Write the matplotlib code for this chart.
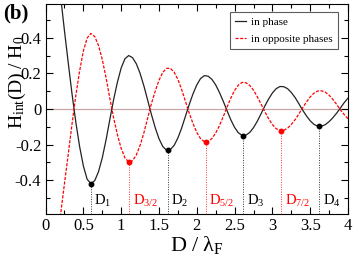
import matplotlib
matplotlib.use("Agg")
import matplotlib.pyplot as plt

plt.rcParams['font.family'] = ['Liberation Serif', 'DejaVu Serif']
plt.rcParams['mathtext.fontset'] = 'custom'
plt.rcParams['mathtext.rm'] = 'Liberation Serif'
plt.rcParams['mathtext.it'] = 'Liberation Serif:italic'

# D / lambda_F sample positions
d = [0.15, 0.20, 0.25, 0.30, 0.35, 0.40, 0.45, 0.50, 0.55, 0.60,
     0.65, 0.70, 0.75, 0.80, 0.85, 0.90, 0.95, 1.00, 1.05, 1.10,
     1.15, 1.20, 1.25, 1.30, 1.35, 1.40, 1.45, 1.50, 1.55, 1.60,
     1.65, 1.70, 1.75, 1.80, 1.85, 1.90, 1.95, 2.00, 2.05, 2.10,
     2.15, 2.20, 2.25, 2.30, 2.35, 2.40, 2.45, 2.50, 2.55, 2.60,
     2.65, 2.70, 2.75, 2.80, 2.85, 2.90, 2.95, 3.00, 3.05, 3.10,
     3.15, 3.20, 3.25, 3.30, 3.35, 3.40, 3.45, 3.50, 3.55, 3.60,
     3.65, 3.70, 3.75, 3.80, 3.85, 3.90, 3.95, 4.00]

in_phase = [0.82, 0.63, 0.44, 0.26, 0.085, -0.073, -0.21, -0.32, -0.395, -0.42,
            -0.403, -0.353, -0.275, -0.174, -0.06, 0.052, 0.15, 0.23, 0.282, 0.30,
            0.288, 0.254, 0.20, 0.13, 0.05, -0.031, -0.105, -0.167, -0.211, -0.232,
            -0.228, -0.205, -0.163, -0.107, -0.041, 0.025, 0.085, 0.135, 0.171, 0.187,
            0.184, 0.166, 0.135, 0.092, 0.043, -0.01, -0.061, -0.104, -0.134, -0.149,
            -0.147, -0.132, -0.105, -0.069, -0.027, 0.017, 0.056, 0.09, 0.114, 0.126,
            0.125, 0.114, 0.092, 0.064, 0.029, -0.007, -0.039, -0.067, -0.087, -0.097,
            -0.097, -0.088, -0.071, -0.049, -0.023, 0.006, 0.036, 0.061]

opposite = [-0.76, -0.59, -0.42, -0.255, -0.085, 0.074, 0.212, 0.325, 0.398, 0.424,
            0.407, 0.357, 0.278, 0.176, 0.06, -0.05, -0.144, -0.222, -0.275, -0.298,
            -0.291, -0.259, -0.205, -0.135, -0.052, 0.03, 0.10, 0.161, 0.205, 0.228,
            0.228, 0.207, 0.166, 0.109, 0.043, -0.024, -0.082, -0.132, -0.167, -0.184,
            -0.183, -0.166, -0.135, -0.093, -0.043, 0.01, 0.061, 0.104, 0.134, 0.149,
            0.147, 0.132, 0.105, 0.069, 0.027, -0.016, -0.055, -0.088, -0.111, -0.121,
            -0.12, -0.108, -0.087, -0.06, -0.028, 0.007, 0.039, 0.068, 0.089, 0.101,
            0.102, 0.094, 0.077, 0.053, 0.025, -0.006, -0.032, -0.055]

# minima and their labels
min_d = [0.6, 1.11, 1.616, 2.12, 2.616, 3.115, 3.62]
min_h = [-0.422, -0.299, -0.233, -0.186, -0.150, -0.122, -0.098]
min_labels = ['$\\mathrm{D_1}$', '$\\mathrm{D_{3/2}}$', '$\\mathrm{D_2}$', '$\\mathrm{D_{5/2}}$',
              '$\\mathrm{D_3}$', '$\\mathrm{D_{7/2}}$', '$\\mathrm{D_4}$']
min_colors = ['black', 'red', 'black', 'red', 'black', 'red', 'black']

x_ticks = [0, 0.5, 1, 1.5, 2, 2.5, 3, 3.5, 4]
x_ticklabels = ['0', '0.5', '1', '1.5', '2', '2.5', '3', '3.5', '4']
y_ticks = [-0.4, -0.2, 0, 0.2, 0.4]
y_ticklabels = ['-0.4', '-0.2', '0', '0.2', '0.4']

ymin, ymax = -0.59, 0.59

fig = plt.figure(figsize=(3.53, 2.60), dpi=100)
ax = fig.add_axes([0.129, 0.177, 0.857, 0.808])

ax.axhline(0, color='#c8a8a8', lw=0.9, zorder=1)
ax.plot(d, in_phase, color='#222222', lw=0.9, label='in phase', zorder=3)
ax.plot(d, opposite, color='red', lw=0.9, ls=(0, (2.5, 1.2)), label='in opposite phases', zorder=3)

for xd, yh, lab, c in zip(min_d, min_h, min_labels, min_colors):
    ax.plot([xd, xd], [ymin, yh], color=c, lw=0.7, ls=(0, (1, 1.5)), alpha=0.8, zorder=2)
    ax.plot(xd, yh, 'o', color=c, ms=3.2, zorder=4)
    ax.text(xd + 0.045, -0.515, lab, color=c, fontsize=10.5, ha='left', va='center')

ax.set_xlim(0, 4)
ax.set_ylim(ymin, ymax)
ax.set_xticks(x_ticks)
ax.set_xticklabels(x_ticklabels)
ax.set_yticks(y_ticks)
ax.set_yticklabels(y_ticklabels)
ax.set_xticks([0.25, 0.75, 1.25, 1.75, 2.25, 2.75, 3.25, 3.75], minor=True)
ax.set_yticks([-0.5, -0.3, -0.1, 0.1, 0.3, 0.5], minor=True)
ax.tick_params(which='both', direction='in', top=True, right=True, labelsize=12, pad=3)
ax.tick_params(which='major', length=5, width=0.8)
ax.tick_params(which='minor', length=3, width=0.8)

ax.set_xlabel('$\\mathrm{D\\ /\\ \\lambda_F}$', fontsize=16, labelpad=0)
fig.text(17 / 353, 0.685, '$\\mathrm{H_{int}(D)\\ /\\ H_0}$', fontsize=14,
         rotation=90, ha='center', va='center')

leg = ax.legend(loc='upper right', fontsize=8, frameon=True, fancybox=False,
                handlelength=1.0, handletextpad=0.5, borderpad=0.45, labelspacing=0.7,
                borderaxespad=0, bbox_to_anchor=(0.967, 0.962))
leg.get_frame().set_edgecolor('#333333')
leg.get_frame().set_linewidth(0.8)

fig.text(0.008, 0.985, '(b)', fontsize=15, fontweight='bold', ha='left', va='top')

fig.savefig('out.png', dpi=100)
